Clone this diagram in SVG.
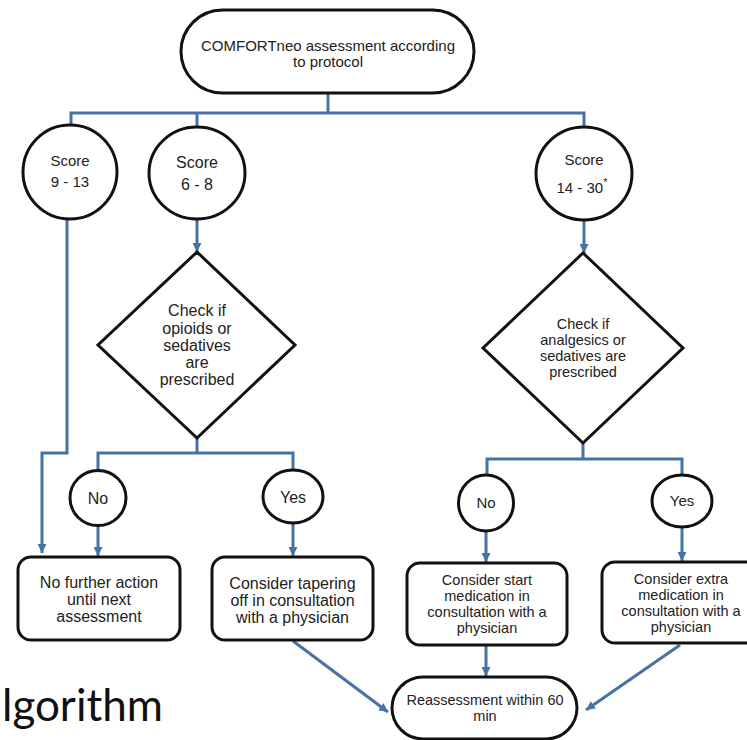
<svg xmlns="http://www.w3.org/2000/svg" width="747" height="740" viewBox="0 0 747 740">
<defs>
<style>
.shape{fill:#fff;stroke:#111;stroke-width:3}
.conn{fill:none;stroke:#4672a4;stroke-width:3}
.arr{marker-end:url(#ah)}
text{font-family:"Liberation Sans",Arial,sans-serif;fill:#222;text-anchor:middle}
.t14{font-size:14.5px}
.t15{font-size:15px}
.t16{font-size:16px}
.big{font-family:Lato,"Open Sans",sans-serif;font-size:44px;fill:#111;text-anchor:start}
</style>
<marker id="ah" viewBox="0 0 10 10" refX="10" refY="5" markerWidth="9" markerHeight="9" markerUnits="userSpaceOnUse" orient="auto">
<path d="M0,0 L10,5 L0,10 z" fill="#4672a4"/>
</marker>
</defs>
<rect width="747" height="740" fill="#fff"/>

<g id="connectors">
<path class="conn" d="M328 93 V113"/>
<path class="conn" d="M71 126 V113 H584 V127"/>
<path class="conn" d="M197 113 V127"/>
<path class="conn arr" d="M67 218 V453 H42 V553"/>
<path class="conn arr" d="M197 219 V252"/>
<path class="conn arr" d="M584 220 V253"/>
<path class="conn" d="M197 438 V453"/>
<path class="conn" d="M98 471 V453 H293 V470"/>
<path class="conn arr" d="M98 526 V556"/>
<path class="conn arr" d="M293 523 V556"/>
<path class="conn" d="M583 443 V459"/>
<path class="conn" d="M487 475 V459 H682 V475"/>
<path class="conn arr" d="M486 531 V562"/>
<path class="conn arr" d="M682 527 V561"/>
<path class="conn arr" d="M293 641 L388 712"/>
<path class="conn arr" d="M486 645 V676"/>
<path class="conn arr" d="M680 645 L586 710"/>
</g>

<g id="start">
<rect class="shape" x="181" y="10" width="293" height="83" rx="41.5" ry="41.5"/>
<text class="t15" x="328" y="50.5">COMFORTneo assessment according</text>
<text class="t15" x="328" y="66.5">to protocol</text>
</g>

<g id="score-9-13">
<ellipse class="shape" cx="70" cy="172" rx="47" ry="47"/>
<text class="t15" x="70" y="166">Score</text>
<text class="t15" x="70" y="187">9 - 13</text>
</g>

<g id="score-6-8">
<ellipse class="shape" cx="197" cy="173" rx="48" ry="46"/>
<text class="t16" x="197" y="167.5">Score</text>
<text class="t16" x="197" y="189.5">6 - 8</text>
</g>

<g id="score-14-30">
<ellipse class="shape" cx="584" cy="173.5" rx="48" ry="46.5"/>
<text class="t15" x="584" y="164.5">Score</text>
<text class="t15" x="582" y="193">14 - 30<tspan font-size="11" dy="-7">*</tspan></text>
</g>

<g id="check-opioids">
<polygon class="shape" points="197,252 295,345 197,438 98,345"/>
<text class="t16" x="197" y="316">Check if</text>
<text class="t16" x="197" y="334">opioids or</text>
<text class="t16" x="197" y="351">sedatives</text>
<text class="t16" x="197" y="368">are</text>
<text class="t16" x="197" y="385">prescribed</text>
</g>

<g id="check-analgesics">
<polygon class="shape" points="583,253 683,348 583,443 483,348"/>
<text class="t14" x="583" y="329">Check if</text>
<text class="t14" x="583" y="345">analgesics or</text>
<text class="t14" x="583" y="361">sedatives are</text>
<text class="t14" x="583" y="377">prescribed</text>
</g>

<g id="no-left">
<ellipse class="shape" cx="98" cy="498" rx="28" ry="27.5"/>
<text class="t16" x="98" y="504">No</text>
</g>

<g id="yes-left">
<ellipse class="shape" cx="293" cy="496.5" rx="30" ry="26.5"/>
<text class="t16" x="293" y="503">Yes</text>
</g>

<g id="no-right">
<ellipse class="shape" cx="486" cy="503" rx="27.5" ry="28"/>
<text class="t15" x="486" y="508">No</text>
</g>

<g id="yes-right">
<ellipse class="shape" cx="682" cy="501" rx="30" ry="26"/>
<text class="t15" x="682" y="506">Yes</text>
</g>

<g id="no-further-action">
<rect class="shape" x="18" y="557" width="162" height="83" rx="13"/>
<text class="t16" x="99" y="588">No further action</text>
<text class="t16" x="99" y="605">until next</text>
<text class="t16" x="99" y="622">assessment</text>
</g>

<g id="consider-tapering">
<rect class="shape" x="212" y="557" width="161" height="83" rx="13"/>
<text class="t16" x="292.5" y="589">Consider tapering</text>
<text class="t16" x="292.5" y="606">off in consultation</text>
<text class="t16" x="292.5" y="623">with a physician</text>
</g>

<g id="consider-start">
<rect class="shape" x="407" y="563" width="160" height="82" rx="13"/>
<text class="t14" x="487" y="585">Consider start</text>
<text class="t14" x="487" y="601">medication in</text>
<text class="t14" x="487" y="617">consultation with a</text>
<text class="t14" x="487" y="633">physician</text>
</g>

<g id="consider-extra">
<rect class="shape" x="602" y="562" width="158" height="81" rx="13"/>
<text class="t14" x="681" y="584">Consider extra</text>
<text class="t14" x="681" y="600">medication in</text>
<text class="t14" x="681" y="616">consultation with a</text>
<text class="t14" x="681" y="632">physician</text>
</g>

<g id="reassessment">
<rect class="shape" x="392" y="677" width="185" height="62" rx="31" ry="31"/>
<text class="t14" x="485" y="705">Reassessment within 60</text>
<text class="t14" x="485" y="721">min</text>
</g>

<text class="big" x="2" y="721">lgorithm</text>
</svg>
